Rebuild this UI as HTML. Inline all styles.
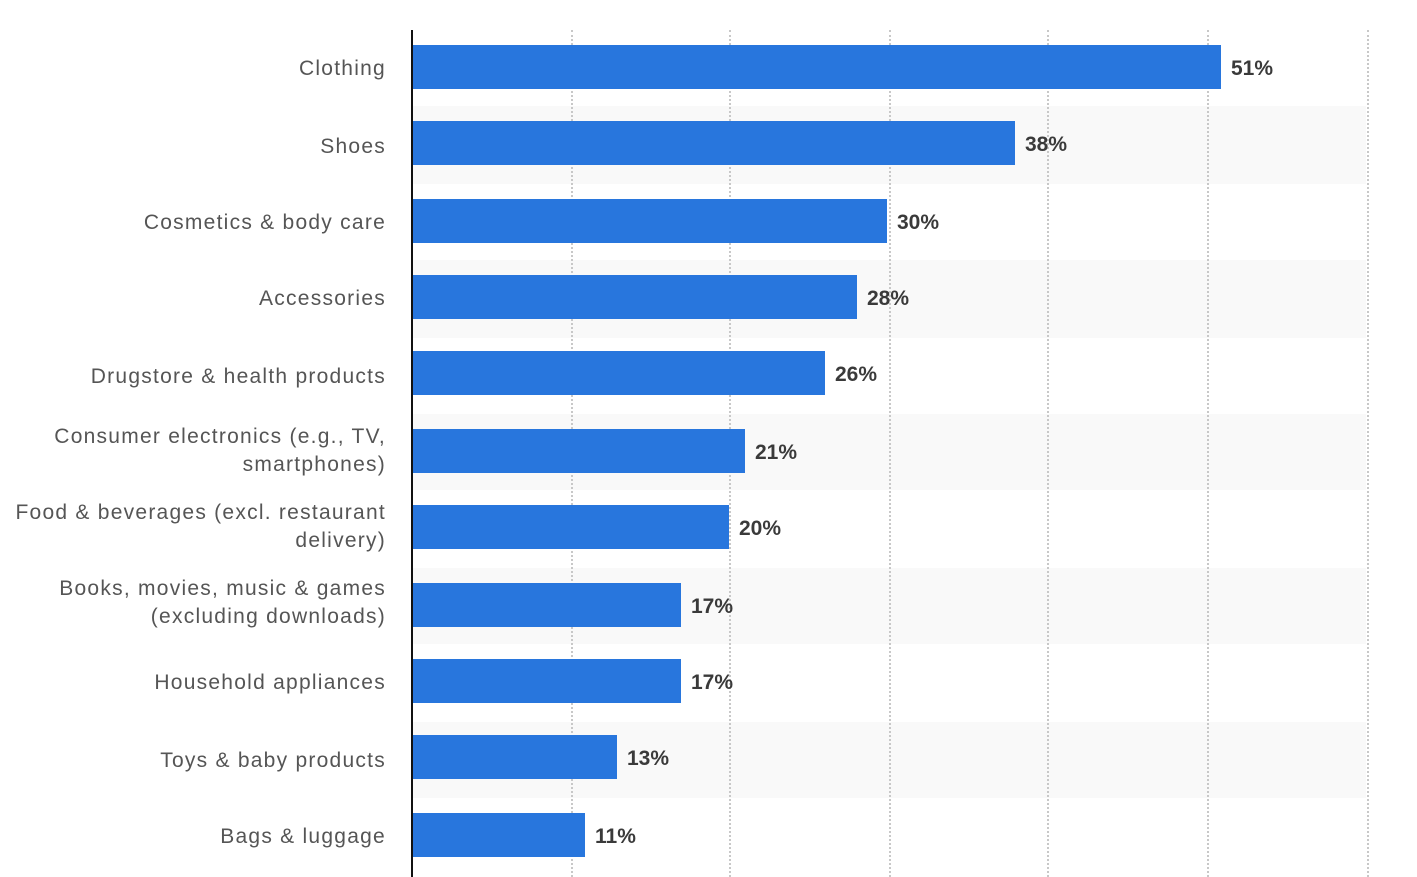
<!DOCTYPE html>
<html><head><style>
body{margin:0;width:1417px;height:877px;background:#fff;position:relative;overflow:hidden;font-family:"Liberation Sans",sans-serif}
.band{position:absolute;left:413px;width:953px;background:#f9f9f9}
.grid{position:absolute;top:30px;height:847px;width:0;border-left:2px dotted #c8c8c8}
.bar{position:absolute;left:413px;height:44px;background:#2876dd}
.val{position:absolute;font-size:21px;font-weight:bold;color:#3a3a3a;line-height:44px;margin-top:2px}
.lab{position:absolute;right:1031px;text-align:right;font-size:21px;color:#555;line-height:28px;letter-spacing:1.25px;margin-top:2px}
.axis{position:absolute;left:411px;top:30px;width:2px;height:847px;background:#111}
</style></head><body>
<div class="band" style="top:106px;height:78px"></div>
<div class="band" style="top:260px;height:78px"></div>
<div class="band" style="top:414px;height:76px"></div>
<div class="band" style="top:568px;height:76px"></div>
<div class="band" style="top:722px;height:76px"></div>
<div class="grid" style="left:571px"></div>
<div class="grid" style="left:729px"></div>
<div class="grid" style="left:889px"></div>
<div class="grid" style="left:1047px"></div>
<div class="grid" style="left:1207px"></div>
<div class="grid" style="left:1367px"></div>
<div class="axis"></div>

<div class="bar" style="top:45px;width:808px"></div><div class="val" style="top:45px;left:1231px">51%</div>
<div class="bar" style="top:121px;width:602px"></div><div class="val" style="top:121px;left:1025px">38%</div>
<div class="bar" style="top:199px;width:474px"></div><div class="val" style="top:199px;left:897px">30%</div>
<div class="bar" style="top:275px;width:444px"></div><div class="val" style="top:275px;left:867px">28%</div>
<div class="bar" style="top:351px;width:412px"></div><div class="val" style="top:351px;left:835px">26%</div>
<div class="bar" style="top:429px;width:332px"></div><div class="val" style="top:429px;left:755px">21%</div>
<div class="bar" style="top:505px;width:316px"></div><div class="val" style="top:505px;left:739px">20%</div>
<div class="bar" style="top:583px;width:268px"></div><div class="val" style="top:583px;left:691px">17%</div>
<div class="bar" style="top:659px;width:268px"></div><div class="val" style="top:659px;left:691px">17%</div>
<div class="bar" style="top:735px;width:204px"></div><div class="val" style="top:735px;left:627px">13%</div>
<div class="bar" style="top:813px;width:172px"></div><div class="val" style="top:813px;left:595px">11%</div>

<div class="lab" style="top:53px">Clothing</div>
<div class="lab" style="top:131px">Shoes</div>
<div class="lab" style="top:207px">Cosmetics &amp; body care</div>
<div class="lab" style="top:283px">Accessories</div>
<div class="lab" style="top:361px">Drugstore &amp; health products</div>
<div class="lab" style="top:421px">Consumer electronics (e.g., TV,<br>smartphones)</div>
<div class="lab" style="top:497px">Food &amp; beverages (excl. restaurant<br>delivery)</div>
<div class="lab" style="top:573px">Books, movies, music &amp; games<br>(excluding downloads)</div>
<div class="lab" style="top:667px">Household appliances</div>
<div class="lab" style="top:745px">Toys &amp; baby products</div>
<div class="lab" style="top:821px">Bags &amp; luggage</div>
</body></html>
